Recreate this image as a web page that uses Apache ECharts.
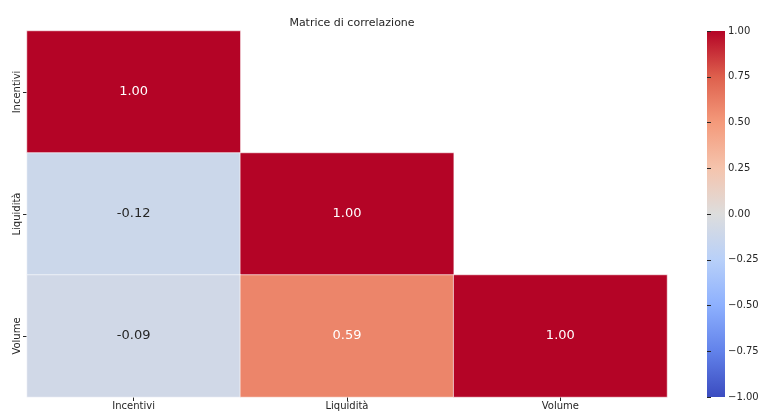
<!DOCTYPE html>
<html>
<head>
<meta charset="utf-8">
<script src="https://cdn.jsdelivr.net/npm/echarts@6/dist/echarts.min.js"></script>
<style>
  html, body { margin: 0; padding: 0; background: #fff; }
  #chart { width: 760px; height: 412px; }
</style>
</head>
<body>
<div id="chart"></div>
<script>
// Variables of the correlation matrix
const variables = ['Incentivi', 'Liquidità', 'Volume'];
// Lower triangle (including diagonal): [column, row, r]
const correlations = [
  [0, 0, 1.00],
  [0, 1, -0.12],
  [1, 1, 1.00],
  [0, 2, -0.09],
  [1, 2, 0.59],
  [2, 2, 1.00]
];
// Colour bar range and tick step
const colorbarMin = -1;
const colorbarMax = 1;
const colorbarStep = 0.25;

// coolwarm palette, from -1 to 1
const coolwarm = ['#3b4cc0', '#6282ea', '#8db0fe', '#b8d0f9', '#dddddd',
                  '#f5c4ad', '#f49a7b', '#de604d', '#b40426'];

const FONT = 'DejaVu Sans';
const TEXT = '#262626';

const chart = echarts.init(document.getElementById('chart'), null, { renderer: 'canvas' });

const fmtTick = v => {
  const s = Math.abs(v).toFixed(2);
  return v < 0 ? '\u2212' + s : s;
};

chart.setOption({
  animation: false,
  backgroundColor: '#ffffff',
  title: {
    text: 'Matrice di correlazione',
    left: 347, top: 12, textAlign: 'center',
    textStyle: { fontFamily: FONT, fontSize: 11, lineHeight: 13, fontWeight: 'normal', color: TEXT }
  },
  grid: [
    { left: 27, right: 93, top: 31, bottom: 15, outerBoundsMode: 'none', containLabel: false },
    { left: 707, width: 18, top: 31, bottom: 15, outerBoundsMode: 'none', containLabel: false }
  ],
  xAxis: [
    {
      type: 'category', data: variables, gridIndex: 0,
      axisLine: { show: false },
      axisTick: { show: true, alignWithLabel: true, length: 4, lineStyle: { color: TEXT } },
      axisLabel: { fontFamily: FONT, fontSize: 10, color: TEXT, margin: 4 },
      splitArea: { show: false }
    },
    {
      type: 'value', gridIndex: 1, min: 0, max: 1,
      axisLine: { show: false }, axisTick: { show: false },
      axisLabel: { show: false }, splitLine: { show: false }
    }
  ],
  yAxis: [
    {
      type: 'category', data: variables, gridIndex: 0, inverse: true,
      axisLine: { show: false },
      axisTick: { show: true, alignWithLabel: true, length: 4, lineStyle: { color: TEXT } },
      axisLabel: { fontFamily: FONT, fontSize: 10, color: TEXT, rotate: 90, margin: 5 }
    },
    {
      type: 'value', gridIndex: 1, position: 'right',
      min: colorbarMin, max: colorbarMax, interval: colorbarStep,
      axisLine: { show: false },
      splitLine: { show: false },
      axisTick: { show: true, inside: false, length: 4, lineStyle: { color: TEXT } },
      axisLabel: { fontFamily: FONT, fontSize: 10, color: TEXT, margin: 3, formatter: fmtTick }
    }
  ],
  visualMap: {
    show: false,
    type: 'continuous', min: colorbarMin, max: colorbarMax, seriesIndex: 0,
    inRange: { color: coolwarm }
  },
  series: [{
    type: 'heatmap',
    xAxisIndex: 0, yAxisIndex: 0,
    data: correlations.map(d => ({
      value: d,
      // dark annotation text on the light cells
      label: { color: Math.abs(d[2]) < 0.4 ? TEXT : '#ffffff' }
    })),
    itemStyle: { borderColor: '#ffffff', borderWidth: 0.6 },
    emphasis: { disabled: true },
    label: {
      show: true,
      fontFamily: FONT, fontSize: 13,
      formatter: p => p.value[2].toFixed(2)
    }
  }]
});

// Colour bar: a gradient filling the second grid, spanning its value axis
const cbTop = chart.convertToPixel({ xAxisIndex: 1, yAxisIndex: 1 }, [0, colorbarMax]);
const cbBottom = chart.convertToPixel({ xAxisIndex: 1, yAxisIndex: 1 }, [1, colorbarMin]);
const stops = coolwarm.map((c, i) => ({ offset: 1 - i / (coolwarm.length - 1), color: c }))
  .sort((a, b) => a.offset - b.offset);
chart.setOption({
  graphic: [{
    type: 'rect',
    silent: true,
    z: 0,
    shape: {
      x: cbTop[0], y: cbTop[1],
      width: cbBottom[0] - cbTop[0], height: cbBottom[1] - cbTop[1]
    },
    style: { fill: new echarts.graphic.LinearGradient(0, 0, 0, 1, stops) }
  }]
});
</script>
</body>
</html>
